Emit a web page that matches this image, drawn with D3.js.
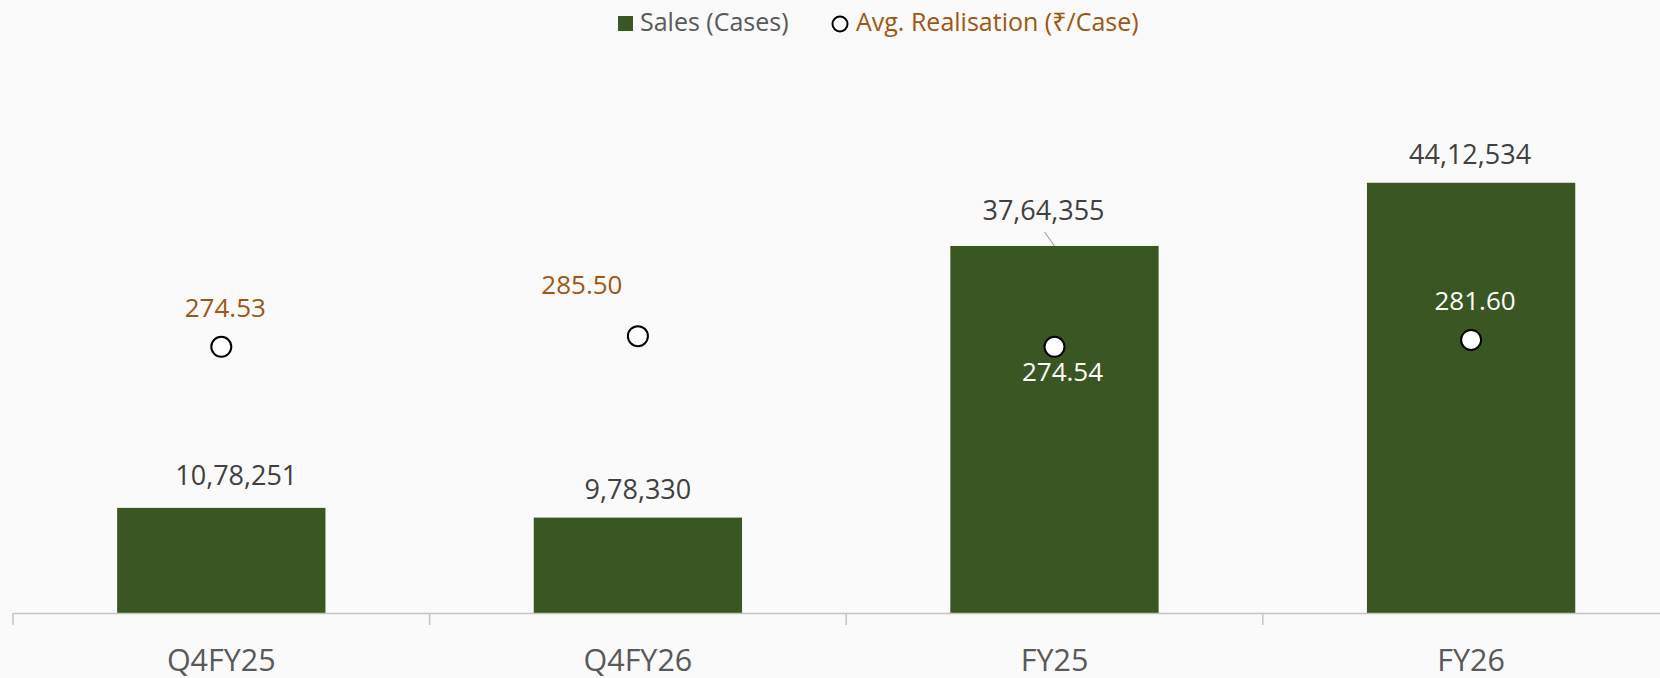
<!DOCTYPE html>
<html>
<head>
<meta charset="utf-8">
<script src="https://cdn.jsdelivr.net/npm/d3@7/dist/d3.min.js"></script>
<style>
  html, body { margin: 0; padding: 0; background: #fafafa; }
  svg { display: block; font-family: "Open Sans", "Noto Sans", sans-serif; }
</style>
</head>
<body>
<div id="chart"></div>
<script>
// chart data
var categories = ['Q4FY25', 'Q4FY26', 'FY25', 'FY26'];
var salesCases = [1078251, 978330, 3764355, 4412534];
var avgRealisation = [274.53, 285.50, 274.54, 281.60];
var salesLabels = ['10,78,251', '9,78,330', '37,64,355', '44,12,534'];
var realisationLabels = ['274.53', '285.50', '274.54', '281.60'];
var legendNames = ['Sales (Cases)', 'Avg. Realisation (\u20B9/Case)'];

// label nudges, as placed in the original
var barLabelShift = [[15, -23], [0, -19], [-11, -26], [-1, -19]];
var dotLabelShift = [[4, -30], [-56, -42], [8, 34], [4, -30]];

(function() {
  var width = 1660, height = 678;
  var base = 613, plotTop = 28;
  var green = '#3a5723', brown = '#a0560f', grey = '#404040';

  var svg = d3.select('#chart').append('svg')
      .attr('width', width)
      .attr('height', height);

  svg.append('rect').attr('width', width).attr('height', height).attr('fill', '#fafafa');

  var x = d3.scaleBand()
      .domain(categories)
      .range([13, 13 + 4 * 416.6])
      .paddingInner(0.5)
      .paddingOuter(0.25);

  var y = d3.scaleLinear().domain([0, 6000000]).range([base, plotTop]);
  var y2 = d3.scaleLinear().domain([0, 600]).range([base + 1.5, plotTop + 1.5]);

  var cx = function(c) { return x(c) + x.bandwidth() / 2; };

  // bars
  svg.selectAll('rect.bar')
      .data(categories)
      .enter().append('rect')
      .attr('class', 'bar')
      .attr('x', function(c) { return x(c); })
      .attr('width', x.bandwidth())
      .attr('y', function(c, i) { return y(salesCases[i]); })
      .attr('height', function(c, i) { return base - y(salesCases[i]); })
      .attr('fill', green);

  // category axis: line + ticks at band boundaries
  var step = x.step();
  var x0 = x.range()[0];
  svg.append('line')
      .attr('x1', x0).attr('x2', width)
      .attr('y1', base + 0.5).attr('y2', base + 0.5)
      .attr('stroke', '#c4c4c4').attr('stroke-width', 1.5);

  svg.selectAll('line.tick')
      .data(d3.range(categories.length + 1))
      .enter().append('line')
      .attr('class', 'tick')
      .attr('x1', function(i) { return x0 + i * step; })
      .attr('x2', function(i) { return x0 + i * step; })
      .attr('y1', base).attr('y2', base + 12)
      .attr('stroke', '#c4c4c4').attr('stroke-width', 1.5);

  svg.selectAll('text.cat')
      .data(categories)
      .enter().append('text')
      .attr('class', 'cat')
      .attr('x', cx)
      .attr('y', 671)
      .attr('text-anchor', 'middle')
      .attr('font-size', 30.5)
      .attr('fill', '#595959')
      .text(function(c) { return c; });

  // bar value labels
  svg.selectAll('text.barlabel')
      .data(categories)
      .enter().append('text')
      .attr('class', 'barlabel')
      .attr('x', function(c, i) { return cx(c) + barLabelShift[i][0]; })
      .attr('y', function(c, i) { return y(salesCases[i]) + barLabelShift[i][1]; })
      .attr('text-anchor', 'middle')
      .attr('font-size', 27)
      .attr('fill', grey)
      .text(function(c, i) { return salesLabels[i]; });

  // leader line for FY25 label
  svg.append('line')
      .attr('x1', cx('FY25') - 10).attr('y1', y(salesCases[2]) - 14)
      .attr('x2', cx('FY25')).attr('y2', y(salesCases[2]))
      .attr('stroke', '#a6a6a6').attr('stroke-width', 1.2);

  // realisation markers (no connecting line)
  svg.selectAll('circle.dot')
      .data(categories)
      .enter().append('circle')
      .attr('class', 'dot')
      .attr('cx', cx)
      .attr('cy', function(c, i) { return y2(avgRealisation[i]); })
      .attr('r', 10)
      .attr('fill', '#ffffff')
      .attr('stroke', '#000000')
      .attr('stroke-width', 2);

  svg.selectAll('text.dotlabel')
      .data(categories)
      .enter().append('text')
      .attr('class', 'dotlabel')
      .attr('x', function(c, i) { return cx(c) + dotLabelShift[i][0]; })
      .attr('y', function(c, i) { return y2(avgRealisation[i]) + dotLabelShift[i][1]; })
      .attr('text-anchor', 'middle')
      .attr('font-size', 26)
      .attr('fill', function(c, i) { return salesCases[i] > 3000000 ? '#ffffff' : brown; })
      .text(function(c, i) { return realisationLabels[i]; });

  // legend
  var lg = svg.append('g');
  lg.append('rect')
      .attr('x', 618).attr('y', 16).attr('width', 15).attr('height', 15)
      .attr('fill', green);
  lg.append('text')
      .attr('x', 640).attr('y', 31)
      .attr('font-size', 25)
      .attr('fill', '#595959')
      .text(legendNames[0]);
  lg.append('circle')
      .attr('cx', 840).attr('cy', 24).attr('r', 7.5)
      .attr('fill', '#ffffff').attr('stroke', '#000000').attr('stroke-width', 2);
  lg.append('text')
      .attr('x', 856).attr('y', 31)
      .attr('font-size', 25)
      .attr('fill', brown)
      .text(legendNames[1]);
})();
</script>
</body>
</html>
